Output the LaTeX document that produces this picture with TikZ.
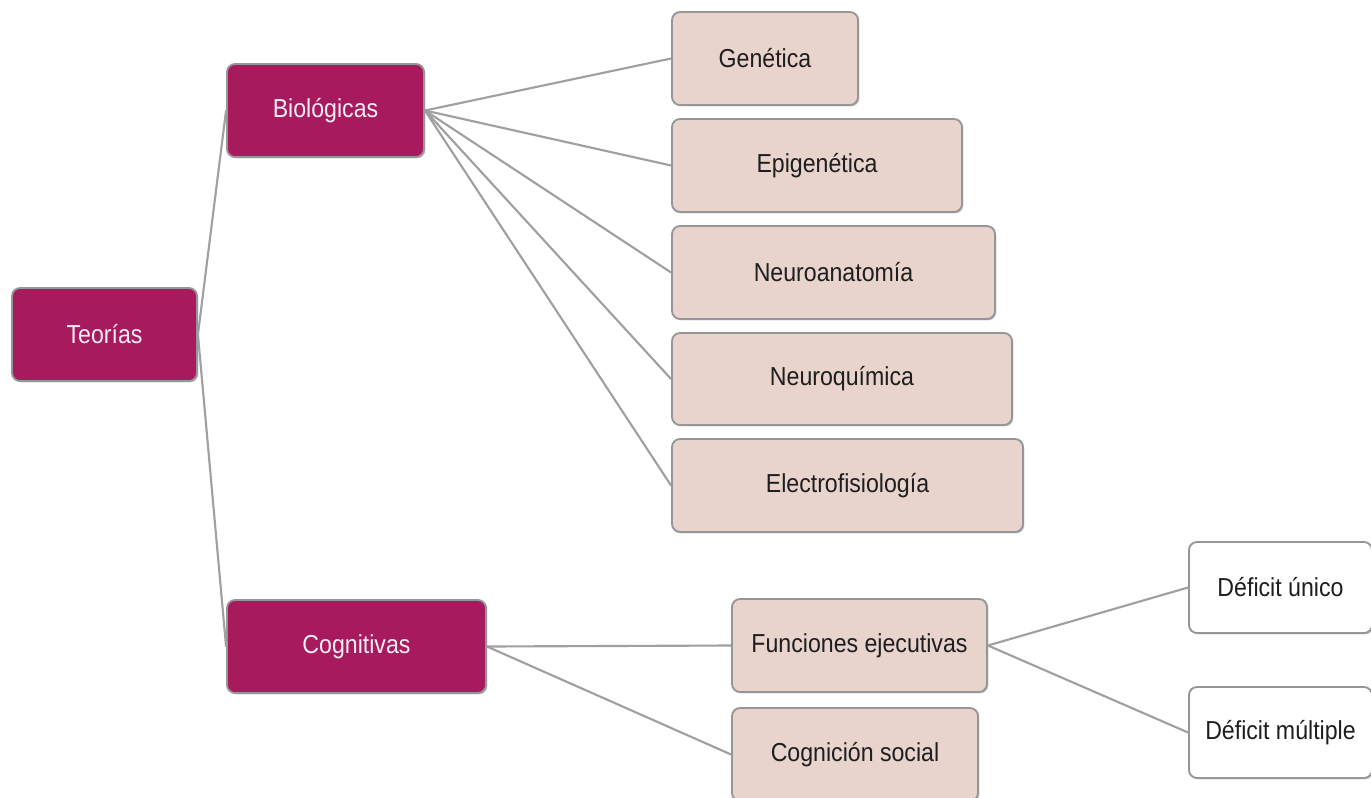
\documentclass[tikz,border=0pt]{standalone}
\usepackage{fontspec}
\setmainfont{Liberation Sans}[FakeStretch=0.89]
\usetikzlibrary{shadows}
\definecolor{magentabox}{RGB}{168,26,94}
\definecolor{pinkbox}{RGB}{232,212,205}
\definecolor{edgegray}{RGB}{150,150,150}
\definecolor{linegray}{RGB}{160,160,160}
\definecolor{txtdark}{RGB}{30,30,30}
\tikzset{
  sz/.style 2 args={minimum width=#1*0.75pt, minimum height=#2*0.75pt},
  basebox/.style={rectangle, rounded corners=6pt, draw=edgegray, line width=1.4pt,
    inner sep=0pt, font=\fontsize{19.5}{23}\selectfont,
    drop shadow={shadow xshift=1pt, shadow yshift=-1pt, opacity=0.35, fill=black!60}},
  mainbox/.style={basebox, fill=magentabox, text=white!92!magentabox},
  subbox/.style={basebox, fill=pinkbox, text=txtdark},
  leafbox/.style={basebox, fill=white, text=txtdark},
  conn/.style={draw=linegray, line width=1.6pt},
}
\begin{document}
\begin{tikzpicture}[x=0.75pt,y=-0.75pt]
\useasboundingbox (0,0) rectangle (1371,797);
\node[mainbox, sz={185}{93}] (teo) at (104.5,334.5) {Teorías};
\node[mainbox, sz={197}{93}] (bio) at (325.5,110.5) {Biológicas};
\node[mainbox, sz={259}{93}] (cog) at (356.5,646.5) {Cognitivas};
\node[subbox, sz={186}{93}] (gen) at (765,58.5) {Genética};
\node[subbox, sz={290}{93}] (epi) at (817,165.5) {Epigenética};
\node[subbox, sz={323}{93}] (nan) at (833.5,272.5) {Neuroanatomía};
\node[subbox, sz={340}{92}] (nqu) at (842,379) {Neuroquímica};
\node[subbox, sz={351}{93}] (ele) at (847.5,485.5) {Electrofisiología};
\node[subbox, sz={255}{93}] (fun) at (859.5,645.5) {Funciones ejecutivas};
\node[subbox, sz={246}{93}] (cso) at (855,754.5) {Cognición social};
\node[leafbox, sz={183}{91}] (dun) at (1280.5,587.5) {Déficit único};
\node[leafbox, sz={183}{91}] (dmu) at (1280.5,732.5) {Déficit múltiple};
\draw[conn] (teo.east) -- (bio.west);
\draw[conn] (teo.east) -- (cog.west);
\foreach \t in {gen,epi,nan,nqu,ele}{\draw[conn] (bio.east) -- (\t.west);}
\draw[conn] (cog.east) -- (fun.west);
\draw[conn] (cog.east) -- (cso.west);
\draw[conn] (fun.east) -- (dun.west);
\draw[conn] (fun.east) -- (dmu.west);
\end{tikzpicture}
\end{document}
